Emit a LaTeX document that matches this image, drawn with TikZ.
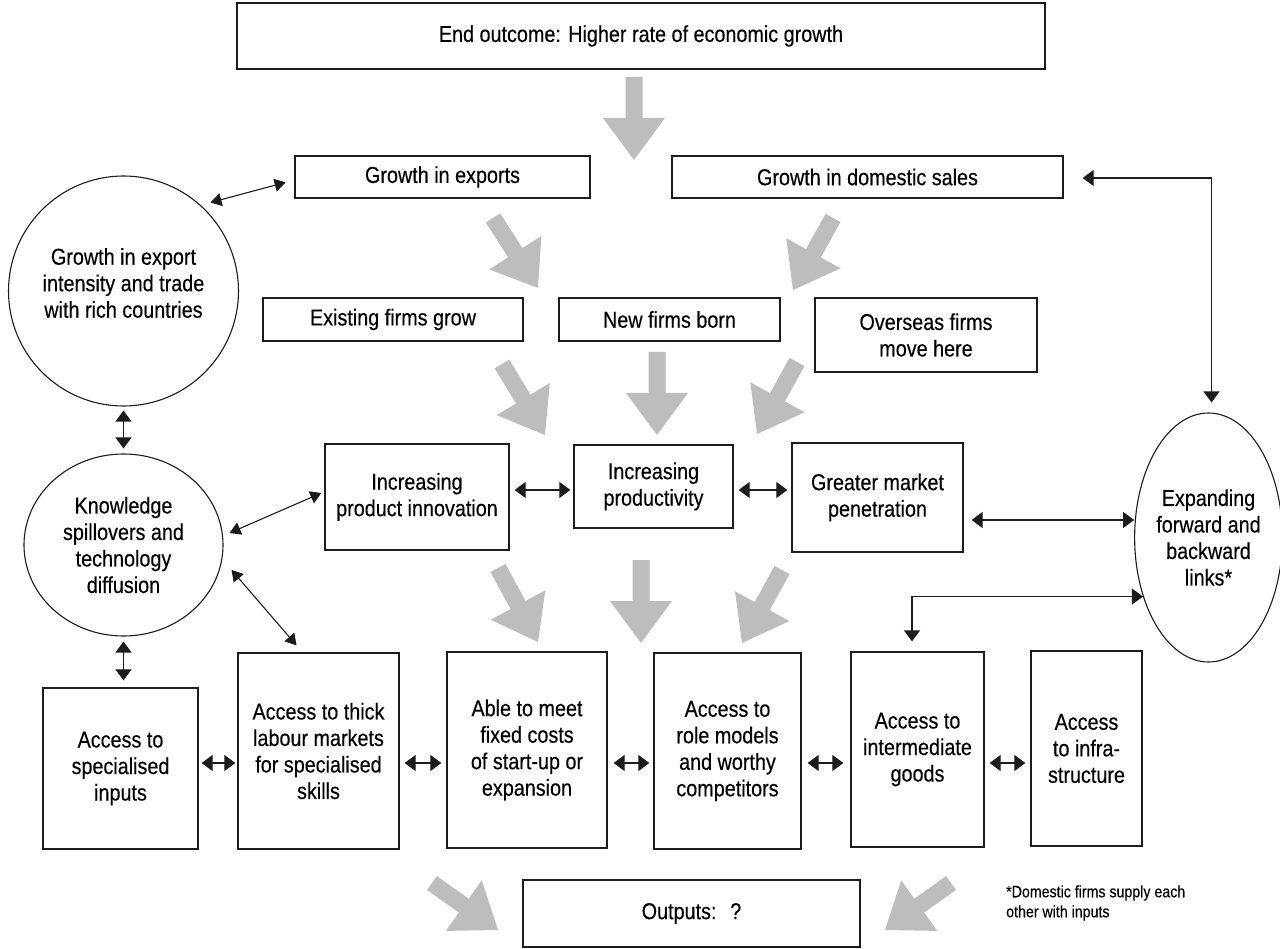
\documentclass[tikz,border=0pt]{standalone}
\usepackage{fontspec}
\setmainfont{Liberation Sans}[FakeStretch=0.86, FakeBold=0.3]
\usetikzlibrary{arrows.meta,calc,shapes.geometric}

\definecolor{ink}{RGB}{28,28,28}
\definecolor{flowgray}{RGB}{189,189,189}

\newcommand\mainsize{\fontsize{23}{26.5}\selectfont}
\newcommand\notesize{\fontsize{16.5}{20}\selectfont}

% broad grey arrow from #1 (tail) to #2 (tip)
\newcommand\flowarrow[2]{%
  \coordinate (fa-b) at ($(#2)!42pt!(#1)$);
  \fill[flowgray]
    ($(#1)!8.5pt!90:(#2)$) -- ($(fa-b)!8.5pt!90:(#2)$) --
    ($(fa-b)!31pt!90:(#2)$) -- (#2) --
    ($(fa-b)!31pt!-90:(#2)$) -- ($(fa-b)!8.5pt!-90:(#2)$) --
    ($(#1)!8.5pt!-90:(#2)$) -- cycle;}

\begin{document}
\begin{tikzpicture}[x=1pt,y=-1pt,
  box/.style={draw=ink, line width=1.3pt, inner sep=0pt, align=center, font=\mainsize},
  roundbox/.style={draw=ink, line width=1.1pt, inner sep=0pt, align=center, font=\mainsize},
  dbl/.style={draw=ink, line width=1.2pt, {Triangle[length=11pt,width=16pt]}-{Triangle[length=11pt,width=16pt]}},
  thin dbl/.style={draw=ink, line width=1.1pt, {Triangle[length=11pt,width=13pt]}-{Triangle[length=11pt,width=13pt]}}]

\useasboundingbox (0,0) rectangle (1280,949);
\fill[white] (0,0) rectangle (1280,949);

% ---- boxes ----
\node[box, minimum width=808, minimum height=66] (end) at (641,36) {End outcome: Higher rate of economic growth};

\node[box, minimum width=295, minimum height=42] (ex) at (442.5,177) {Growth in exports};
\node[box, minimum width=391, minimum height=42] (dom) at (867.5,177) {Growth in domestic sales};

\node[box, minimum width=260, minimum height=43] (exist) at (393,319.5) {Existing firms grow};
\node[box, minimum width=221, minimum height=43] (newf) at (669.5,319.5) {New firms born};
\node[box, minimum width=222, minimum height=74] (over) at (926,335) {Overseas firms\\move here};

\node[box, minimum width=184, minimum height=106] (innov) at (417,497) {Increasing\\product innovation};
\node[box, minimum width=159, minimum height=83] (prod) at (653.5,486.5) {Increasing\\productivity};
\node[box, minimum width=171, minimum height=109] (great) at (877.5,497.5) {Greater market\\penetration};

\node[box, minimum width=155, minimum height=161] (inputs) at (120.5,768.5) {Access to\\specialised\\inputs};
\node[box, minimum width=161, minimum height=196] (labour) at (318.5,751) {Access to thick\\labour markets\\for specialised\\skills};
\node[box, minimum width=160, minimum height=196] (able) at (527,750) {Able to meet\\fixed costs\\of start-up or\\expansion};
\node[box, minimum width=147, minimum height=196] (role) at (727.5,751) {Access to\\role models\\and worthy\\competitors};
\node[box, minimum width=133, minimum height=195] (inter) at (917.5,749.5) {Access to\\intermediate\\goods};
\node[box, minimum width=111, minimum height=195] (infra) at (1086.5,748.5) {Access\\to infra-\\structure};

\node[box, minimum width=337, minimum height=67] (out) at (691.5,913.5) {Outputs:\hspace{0.6em}?};

% ---- round nodes ----
\node[roundbox, circle, minimum size=230] (c1) at (123.5,291) {};
\node[align=center, font=\mainsize, inner sep=0pt] (c1t) at (123.5,283) {Growth in export\\intensity and trade\\with rich countries};
\node[roundbox, ellipse, minimum width=199, minimum height=182] (c2) at (123.5,545) {Knowledge\\spillovers and\\technology\\diffusion};
\node[roundbox, ellipse, minimum width=141, minimum height=249] (ell) at (1208.5,537.5) {Expanding\\forward and\\backward\\links*};

% footnote
\node[anchor=west, align=left, font=\notesize, inner sep=0pt] (note) at (1006,903) {*Domestic firms supply each\\other with inputs};

% ---- grey flow arrows ----
\coordinate (g1t) at (634,77);   \coordinate (g1h) at (634,160);
\coordinate (g2t) at (493,218);  \coordinate (g2h) at (538,288);
\coordinate (g3t) at (833,218);  \coordinate (g3h) at (793,290);
\coordinate (g4t) at (502,364);  \coordinate (g4h) at (545,435);
\coordinate (g5t) at (657,352);  \coordinate (g5h) at (657,435);
\coordinate (g6t) at (797,362);  \coordinate (g6h) at (757,434);
\coordinate (g7t) at (498,568);  \coordinate (g7h) at (538,642);
\coordinate (g8t) at (641,560);  \coordinate (g8h) at (641,643);
\coordinate (g9t) at (782,570);  \coordinate (g9h) at (742,643);
\coordinate (g10t) at (432,883); \coordinate (g10h) at (498,930);
\coordinate (g11t) at (951,883); \coordinate (g11h) at (885,930);
\flowarrow{g1t}{g1h}
\flowarrow{g2t}{g2h}
\flowarrow{g3t}{g3h}
\flowarrow{g4t}{g4h}
\flowarrow{g5t}{g5h}
\flowarrow{g6t}{g6h}
\flowarrow{g7t}{g7h}
\flowarrow{g8t}{g8h}
\flowarrow{g9t}{g9h}
\flowarrow{g10t}{g10h}
\flowarrow{g11t}{g11h}

% ---- black connectors ----
\draw[thin dbl, shorten <=10pt, shorten >=9pt] (c1.48) -- ([yshift=-3pt]ex.west);
\draw[dbl, shorten <=4pt, shorten >=5pt] (c1.south) -- (c2.north);
\draw[thin dbl] ([shift={(6,-12)}]c2.east) -- ([shift={(-3,-4)}]innov.west);
\draw[thin dbl] ([shift={(8,25)}]c2.east) -- ([shift={(-22,-7)}]labour.north);
\draw[dbl, shorten <=5pt, shorten >=7pt] (c2.south) -- (c2.south |- inputs.north);

\coordinate (row3) at (0,490);
\coordinate (row3b) at (0,520);
\coordinate (row4) at (0,763);
\draw[dbl, shorten <=5pt, shorten >=3pt] (innov.east |- row3) -- (prod.west |- row3);
\draw[dbl, shorten <=5pt, shorten >=4pt] (prod.east |- row3) -- (great.west |- row3);
\draw[dbl, shorten <=8pt] (great.east |- row3b) -- (ell.west |- row3b);

\draw[dbl, shorten <=3pt, shorten >=2pt] (inputs.east |- row4) -- (labour.west |- row4);
\draw[dbl, shorten <=5pt, shorten >=5pt] (labour.east |- row4) -- (able.west |- row4);
\draw[dbl, shorten <=6pt, shorten >=4pt] (able.east |- row4) -- (role.west |- row4);
\draw[dbl, shorten <=6pt, shorten >=7pt] (role.east |- row4) -- (inter.west |- row4);
\draw[dbl, shorten <=5pt, shorten >=5pt] (inter.east |- row4) -- (infra.west |- row4);

\draw[dbl, shorten <=19pt, shorten >=10pt] ([yshift=-1pt]dom.east) -| ([xshift=3pt]ell.north);
\draw[dbl, shorten >=10pt] (ell.222.6) -| ([xshift=-5.5pt]inter.north);

\end{tikzpicture}
\end{document}
